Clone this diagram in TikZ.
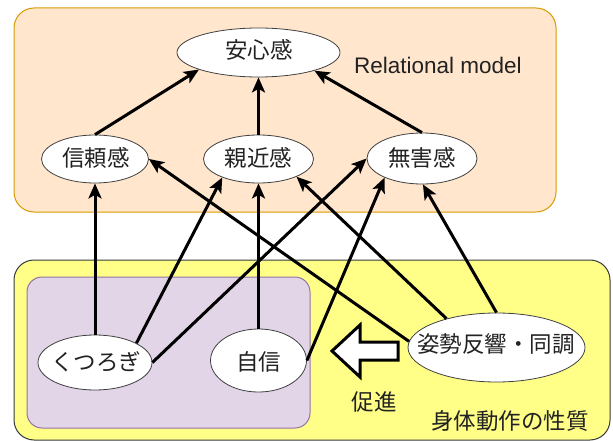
\documentclass[tikz,border=0pt]{standalone}
\usepackage{fontspec}
\setmainfont{Liberation Sans}
\newfontfamily\cjk{Noto Sans CJK JP}
\usetikzlibrary{shapes.geometric,arrows.meta}
\definecolor{orfill}{HTML}{FFE6CC}
\definecolor{ordraw}{HTML}{D79B00}
\definecolor{yefill}{HTML}{FFFF88}
\definecolor{yedraw}{HTML}{36393D}
\definecolor{pufill}{HTML}{E1D5E7}
\definecolor{pudraw}{HTML}{9673A6}
\definecolor{txtc}{HTML}{222222}
\begin{document}
\begin{tikzpicture}[x=1pt,y=-1pt,
  ell/.style={ellipse, draw=black!75, line width=0.8pt, fill=white, inner sep=0pt},
  jtxt/.style={inner sep=0pt, text=txtc, font=\cjk\fontsize{22.5}{22.5}\selectfont},
  con/.style={line width=3pt, black},
  arr/.style={con, -{Stealth[length=15pt,width=13pt,inset=3.5pt]}},
  box/.style={line width=1pt, rounded corners=20pt}
]
\useasboundingbox (0,0) rectangle (613,441);
% containers
\draw[box, fill=orfill, draw=ordraw] (14,8) rectangle (556,212);
\draw[box, fill=yefill, draw=yedraw] (14,260) rectangle (610,440);
\draw[box, rounded corners=15pt, fill=pufill, draw=pudraw] (27,277) rectangle (310,428);
% ellipses
\node[ell, minimum width=163pt, minimum height=49pt] (anshin) at (258.5,52.5) {};
\node[ell, minimum width=107pt, minimum height=48pt] (shinrai) at (95,159) {};
\node[ell, minimum width=110pt, minimum height=48pt] (shinkin) at (258.5,159) {};
\node[ell, minimum width=110pt, minimum height=51pt] (mugai) at (422,158.5) {};
\node[ell, minimum width=114pt, minimum height=55pt] (kutsu) at (95,362.5) {};
\node[ell, minimum width=96pt, minimum height=63pt] (jishin) at (258.5,360.5) {};
\node[ell, minimum width=177pt, minimum height=69pt] (shisei) at (496.5,347.5) {};
% texts
\node[jtxt] (tanshin) at (259,50) {安心感};
\node[jtxt] (tshinrai) at (96,158) {信頼感};
\node[jtxt] (tshinkin) at (258.5,158) {親近感};
\node[jtxt] (tmugai) at (422,158) {無害感};
\node[jtxt] (tkutsu) at (96,362) {くつろぎ};
\node[jtxt] (tjishin) at (258.5,362) {自信};
\node[jtxt] (tshisei) at (496,344) {姿勢反響・同調};
\node[jtxt] (tsokushin) at (374,402) {促進};
\node[jtxt] (tshintai) at (510,421) {身体動作の性質};
\node[inner sep=0pt, text=txtc, font=\fontsize{22.5}{22.5}\selectfont, anchor=west] (trel) at (354,65) {Relational model};
% connectors
\draw[arr] (shinrai.north) -- (anshin.196);
\draw[arr] (shinkin.north) -- (anshin.south);
\draw[arr] (mugai.north) -- (anshin.342);
\draw[arr] (kutsu.north) -- (shinrai.south);
\draw[arr] (kutsu.25) -- (shinkin.207);
\draw[arr] (kutsu.east) -- (mugai.west);
\draw[arr] (jishin.north) -- (shinkin.south);
\draw[arr] (jishin.east) -- (mugai.207);
\draw[arr] (shisei.176) -- (shinrai.east);
\draw[arr] (shisei.150) -- (shinkin.335);
\draw[arr] (shisei.north) -- (mugai.-88);
% block arrow
\draw[line width=3pt, fill=white, line join=miter]
  (398,342) -- (360,342) -- (360,325) -- (332,351) -- (360,377) -- (360,360) -- (398,360) -- cycle;
\end{tikzpicture}
\end{document}
